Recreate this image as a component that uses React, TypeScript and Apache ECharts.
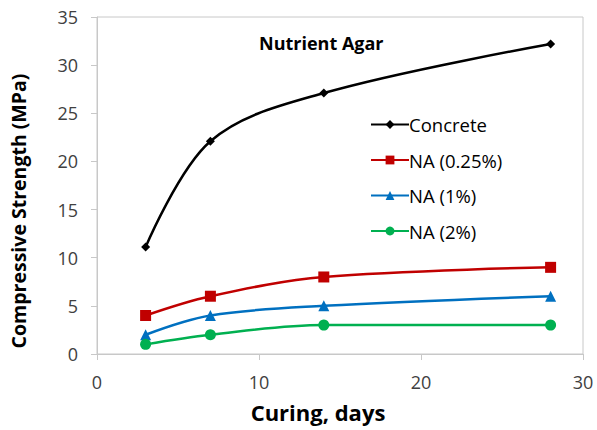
import React, { useEffect, useRef } from "react";
import * as echarts from "echarts";

const days = [3, 7, 14, 28];
const concrete = [11.1, 22.1, 27.1, 32.2];
const na025 = [4, 6, 8, 9];
const na1 = [2, 4, 5, 6];
const na2 = [1, 2, 3, 3];
const seriesNames = ["Concrete", "NA (0.25%)", "NA (1%)", "NA (2%)"];
const colors = ["#000000", "#C00000", "#0070C0", "#00B050"];
const symbols = ["diamond", "rect", "triangle", "circle"];
const symbolSizes = [9, 11, 11, 11];
const chartTitle = "Nutrient Agar";
const xTitle = "Curing, days";
const yTitle = "Compressive Strength (MPa)";

const FONT = "'Open Sans', sans-serif";

export default function App() {
  const ref = useRef<HTMLDivElement>(null);
  useEffect(() => {
    if (!ref.current) return;
    const chart = echarts.init(ref.current, null, { renderer: "svg" });
    const all = [concrete, na025, na1, na2];
    chart.setOption({
      animation: false,
      backgroundColor: "#ffffff",
      title: {
        text: chartTitle,
        left: 254,
        top: 29,
        textStyle: { fontFamily: FONT, fontSize: 18, fontWeight: "bold", color: "#000" },
      },
      legend: {
        orient: "vertical",
        left: 365,
        top: 110,
        itemGap: 16.5,
        itemWidth: 38,
        itemHeight: 11,
        data: seriesNames,
        textStyle: { fontFamily: FONT, fontSize: 18.5, color: "#000", padding: [0, 0, 0, -5] },
      },
      graphic: [
        {
          type: "text",
          x: 18,
          y: 211,
          rotation: Math.PI / 2,
          style: {
            text: yTitle,
            fontFamily: FONT,
            fontSize: 19.5,
            fontWeight: "bold",
            fill: "#000",
            align: "center",
            verticalAlign: "middle",
          },
        },
        {
          type: "text",
          x: 318,
          y: 412,
          style: {
            text: xTitle,
            fontFamily: FONT,
            fontSize: 22,
            fontWeight: "bold",
            fill: "#000",
            align: "center",
            verticalAlign: "middle",
          },
        },
      ],
      grid: {
        left: 97,
        right: 14,
        top: 17,
        bottom: 76,
        show: true,
        borderColor: "#c8c8c8",
        borderWidth: 1,
      },
      xAxis: {
        type: "value",
        min: 0,
        max: 30,
        interval: 10,
        axisLine: { show: true, lineStyle: { color: "#c8c8c8" } },
        axisTick: { show: true, length: 6, lineStyle: { color: "#c8c8c8" } },
        axisLabel: { fontFamily: FONT, fontSize: 18, color: "#404040", margin: 19 },
        splitLine: { show: false },
      },
      yAxis: {
        type: "value",
        min: 0,
        max: 35,
        interval: 5,
        axisLine: { show: true, lineStyle: { color: "#c8c8c8" } },
        axisTick: { show: true, length: 6, lineStyle: { color: "#c8c8c8" } },
        axisLabel: { fontFamily: FONT, fontSize: 18, color: "#404040", margin: 19 },
        splitLine: { show: false },
      },
      series: seriesNames.map((name, i) => ({
        name,
        type: "line",
        smooth: 0.35,
        data: days.map((d, j) => [d, all[i][j]]),
        symbol: symbols[i],
        symbolSize: symbolSizes[i],
        showSymbol: true,
        itemStyle: { color: colors[i] },
        lineStyle: { color: colors[i], width: 2.5 },
      })),
    });
    return () => chart.dispose();
  }, []);
  return <div ref={ref} style={{ width: 597, height: 430, position: "absolute", left: 0, top: 0 }} />;
}
